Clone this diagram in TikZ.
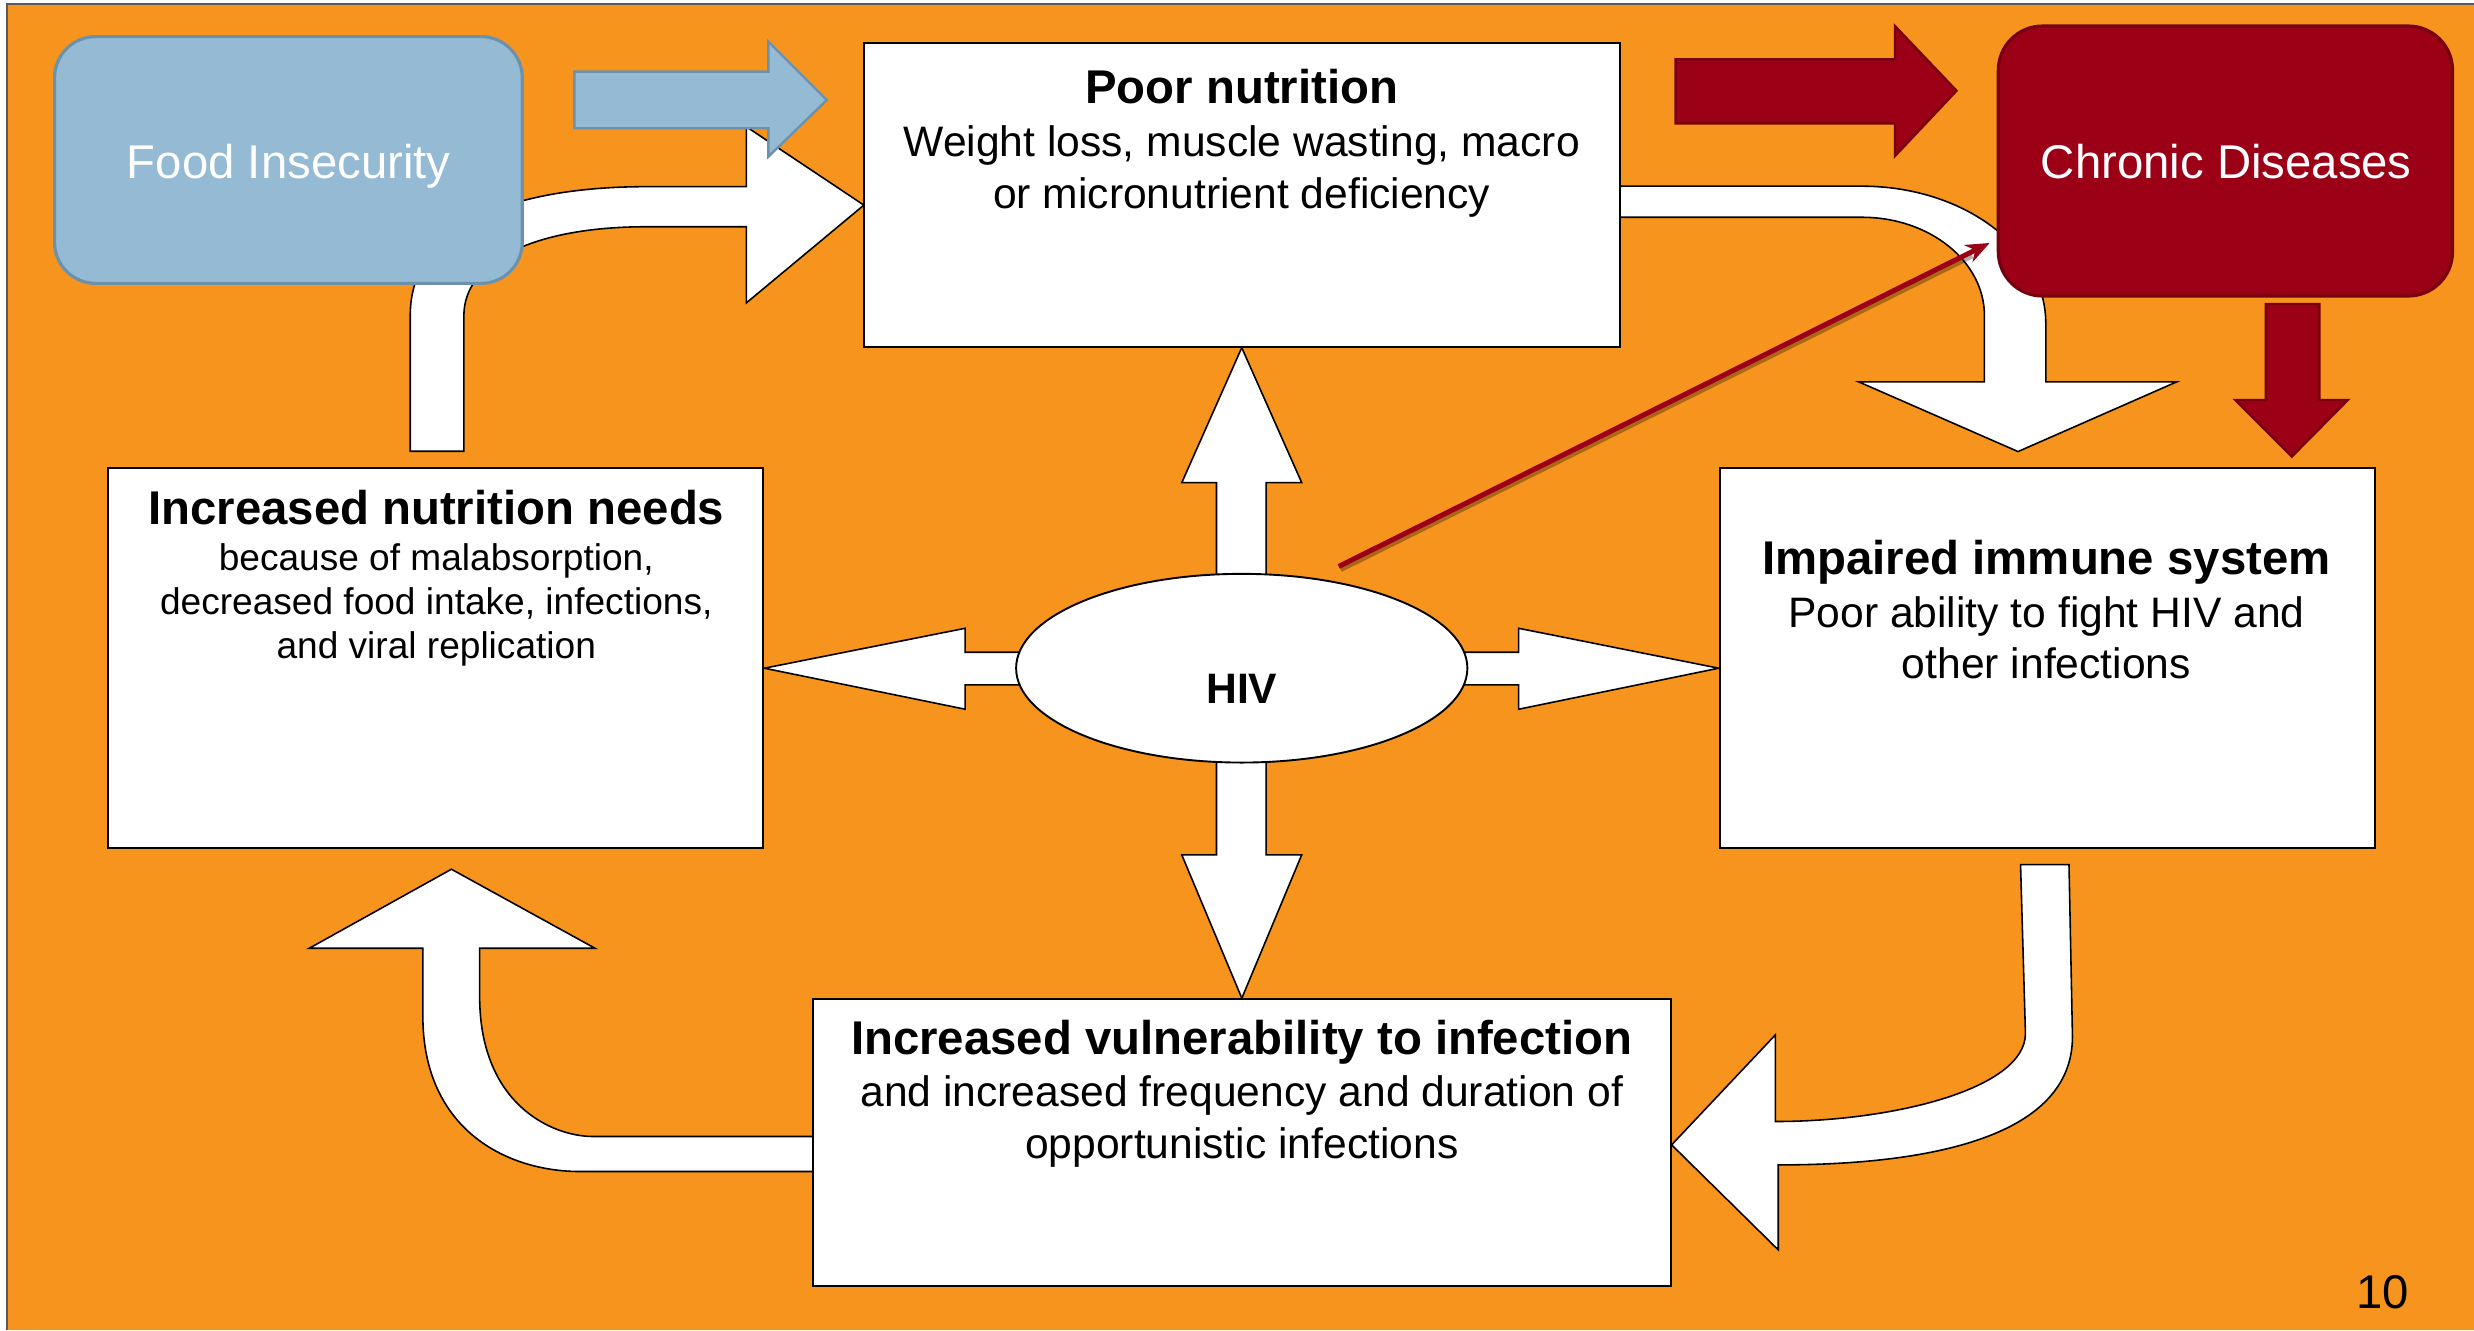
\documentclass[tikz,border=0pt]{standalone}
\usepackage{fontspec}
\setmainfont{Liberation Sans}
\usetikzlibrary{arrows.meta,shapes.geometric,calc}
\definecolor{bgorange}{RGB}{247,148,29}
\definecolor{fiblue}{RGB}{148,187,211}
\definecolor{fiblueline}{RGB}{108,145,172}
\definecolor{cdred}{RGB}{155,0,22}
\definecolor{cdredline}{RGB}{118,0,14}
\definecolor{framegray}{RGB}{90,90,90}
\pgfdeclarelayer{back}
\pgfdeclarelayer{arrows}
\pgfsetlayers{back,arrows,main}
\tikzset{
  box/.style={draw=black, fill=white, line width=1.3pt, rectangle, inner sep=0pt},
  roundbox/.style={rectangle, rounded corners=26pt, line width=2pt, inner sep=0pt},
  blockarrow/.style={draw=black, fill=white, line width=1pt, line join=miter},
  bluearrow/.style={draw=fiblueline, fill=fiblue, line width=1.5pt, line join=miter},
  redarrow/.style={draw=cdredline, fill=cdred, line width=1.5pt, line join=miter},
  titletext/.style={anchor=base, font=\fontsize{30}{36}\selectfont\bfseries, inner sep=0pt},
  bodytext/.style={anchor=base, font=\fontsize{27}{33}\selectfont, inner sep=0pt},
  smalltext/.style={anchor=base, font=\fontsize{23.5}{28}\selectfont, inner sep=0pt},
  whitetext/.style={anchor=base, font=\fontsize{30}{36}\selectfont, text=white, inner sep=0pt},
}
\begin{document}
\begin{tikzpicture}[x=1pt,y=-1pt]
\useasboundingbox (0,0) rectangle (1568,843);
\begin{pgfonlayer}{back}
  \fill[white] (0,0) rectangle (1568,843);
  \fill[bgorange] (4.5,2.5) rectangle (1568,843);
  \draw[framegray, line width=1pt] (4.5,843) -- (4.5,2.5) -- (1568,2.5);
\end{pgfonlayer}

% ---- boxes ----
\node[roundbox, draw=fiblueline, fill=fiblue, minimum width=296.4pt, minimum height=156.4pt] (food) at (182.8,101.4) {};
\node[box, minimum width=479.1pt, minimum height=192.7pt] (pn) at (787,123.35) {};
\node[roundbox, rounded corners=28pt, draw=cdredline, fill=cdred, minimum width=287.9pt, minimum height=171.1pt] (chronic) at (1410.45,102.05) {};
\node[box, minimum width=415.4pt, minimum height=240.5pt] (needs) at (276.1,417.05) {};
\node[box, minimum width=415.1pt, minimum height=240.5pt] (immune) at (1297.45,417.05) {};
\node[box, minimum width=543.5pt, minimum height=181.7pt] (vuln) at (787.05,724.15) {};
\node[ellipse, draw=black, fill=white, line width=1.2pt, minimum width=286pt, minimum height=119.6pt, inner sep=0pt] (hiv) at (787,423.5) {};

% ---- texts ----
\node[whitetext] (foodT) at (183,113) {Food Insecurity};
\node[whitetext] (chronicT) at (1411,113) {Chronic Diseases};
\node[titletext] (pnT) at (787,65.9) {Poor nutrition};
\node[bodytext] (pn1) at (787,99.3) {Weight loss, muscle wasting, macro};
\node[bodytext] (pn2) at (787,132.4) {or micronutrient deficiency};
\node[titletext] (needsT) at (276.5,332.7) {Increased nutrition needs};
\node[smalltext] (needs1) at (276.5,361.7) {because of malabsorption,};
\node[smalltext] (needs2) at (276.5,389.7) {decreased food intake, infections,};
\node[smalltext] (needs3) at (276.5,417.2) {and viral replication};
\node[titletext] (immuneT) at (1297,364.4) {Impaired immune system};
\node[bodytext] (immune1) at (1297,397.8) {Poor ability to fight HIV and};
\node[bodytext] (immune2) at (1297,429.9) {other infections};
\node[titletext] (vulnT) at (787,668.6) {Increased vulnerability to infection};
\node[bodytext] (vuln1) at (787,701.3) {and increased frequency and duration of};
\node[bodytext] (vuln2) at (787,734) {opportunistic infections};
\node[anchor=base, font=\fontsize{27}{33}\selectfont\bfseries, inner sep=0pt] (hivT) at (787,446.1) {HIV};
\node[anchor=base, font=\fontsize{30}{36}\selectfont, inner sep=0pt] (pagenum) at (1510,829) {10};

% ---- white block arrows (behind boxes) ----
\begin{pgfonlayer}{arrows}
  % HIV -> Poor nutrition
  \draw[blockarrow] (771,400) -- (771,305.9) -- (749,305.9) -- (pn.south) -- (825,305.9) -- (802.5,305.9) -- (802.5,400) -- cycle;
  % HIV -> vulnerability
  \draw[blockarrow] (771,450) -- (771,541.8) -- (749,541.8) -- (vuln.north) -- (825,541.8) -- (802.5,541.8) -- (802.5,450) -- cycle;
  % HIV -> increased needs
  \draw[blockarrow] (700,413.4) -- (611.7,413.4) -- (611.7,398.2) -- (needs.east |- hiv) -- (611.7,449.5) -- (611.7,434.1) -- (700,434.1) -- cycle;
  % HIV -> immune
  \draw[blockarrow] (870,413.4) -- (962.5,413.4) -- (962.5,398.2) -- (immune.west |- hiv) -- (962.5,449.5) -- (962.5,434.1) -- (870,434.1) -- cycle;
  % increased needs -> poor nutrition (behind food box)
  \draw[blockarrow] (260,286) -- (260,200) .. controls (260,140) and (330,118.3) .. (410,118.3)
     -- (473,118.3) -- (473,80.3) -- (547.5,130) -- (473,192) -- (473,143.7) -- (410,143.7)
     .. controls (340,143.7) and (294,165) .. (294,200) -- (294,286) -- cycle;
  % poor nutrition -> immune
  \draw[blockarrow] (1020,118) -- (1180,118) .. controls (1244.4,118) and (1296.6,157) .. (1296.6,205)
     -- (1296.6,242) -- (1379.6,242) -- (1279,286.2) -- (1178,242) -- (1257.7,242) -- (1257.7,200)
     .. controls (1257.7,165.6) and (1222.9,137.7) .. (1180,137.7) -- (1020,137.7) -- cycle;
  % immune -> vulnerability
  \draw[blockarrow] (1280.6,548) -- (1283.7,655) .. controls (1283.7,690) and (1200,710.8) .. (1125.2,710.8)
     -- (1125.2,655.9) -- (vuln.east |- 0,725.6) -- (1127,792.1) -- (1127,738.3)
     .. controls (1225,738.3) and (1313.5,720) .. (1313.5,657) -- (1311.3,548) -- cycle;
  % vulnerability -> increased needs
  \draw[blockarrow] (520,720.3) -- (375.9,720.3) .. controls (350,720.3) and (304,700) .. (304,631.6)
     -- (304,601) -- (377.1,601) -- (286.1,550.9) -- (196,601) -- (268,601) -- (268,644)
     .. controls (268,715) and (320,742.5) .. (367.8,742.5) -- (520,742.5) -- cycle;
\end{pgfonlayer}

% ---- coloured block arrows ----
\draw[bluearrow] (364,45.4) -- (487,45.4) -- (487,26.4) -- (524,63.4) -- (487,99.3) -- (487,81.3) -- (364,81.3) -- cycle;
\draw[redarrow] (1062,37.6) -- (1201,37.6) -- (1201,16.5) -- (1240,57.5) -- (1201,98.9) -- (1201,78.2) -- (1062,78.2) -- cycle;
\draw[redarrow] (1436,192.7) -- (1470,192.7) -- (1470,253.5) -- (1488,253.5) -- (1452.5,289.4) -- (1416.7,253.5) -- (1436,253.5) -- cycle;

% ---- thin red arrow HIV -> chronic diseases ----
\coordinate (rs) at (848.5,359);
\coordinate (re) at (1261,154);
\draw[black, opacity=0.3, line width=3.5pt] (849.7,360.8) -- (1250,162);
\draw[cdred, line width=3.2pt, -{Stealth[length=15pt,width=12pt]}] (rs) -- (re);
\end{tikzpicture}
\end{document}
